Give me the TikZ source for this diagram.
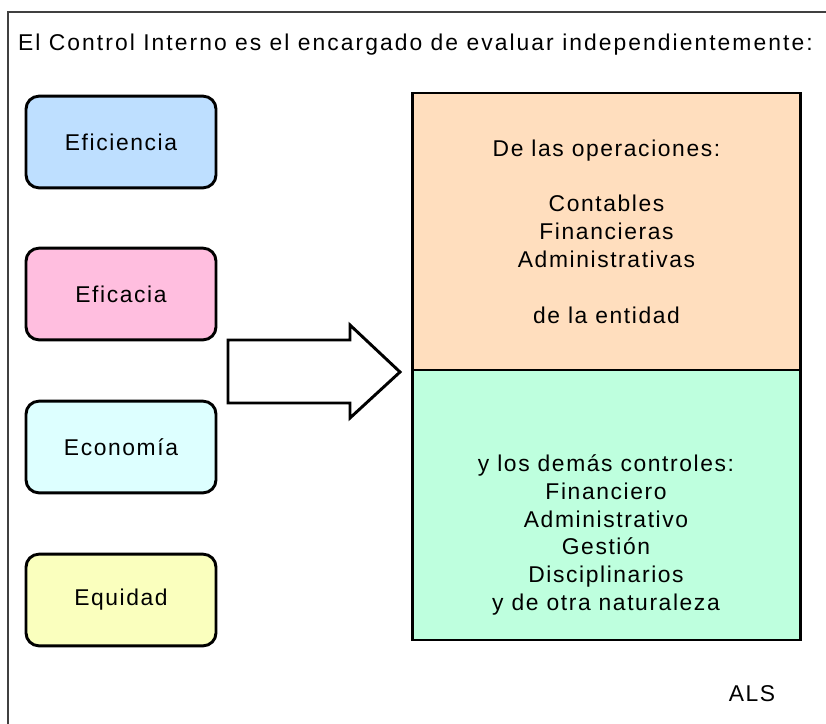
\documentclass[tikz,border=0pt]{standalone}
\usepackage{fontspec}
\setmainfont{Liberation Sans}[LetterSpace=7]
\definecolor{azulc}{RGB}{190,223,255}
\definecolor{rosac}{RGB}{255,190,223}
\definecolor{cianc}{RGB}{221,255,255}
\definecolor{amarc}{RGB}{250,255,190}
\definecolor{durazno}{RGB}{255,222,190}
\definecolor{menta}{RGB}{190,255,222}
\begin{document}
\begin{tikzpicture}[x=0.03cm,y=-0.03cm,
  caja/.style={draw, line width=2.5pt, rounded corners=11pt, minimum width=5.7cm, minimum height=2.75cm},
  bloque/.style={draw, line width=2.5pt, minimum width=11.65cm},
  texto/.style={align=center, font=\fontsize{19.5}{23.8}\selectfont}]
\useasboundingbox (0,0) rectangle (826,724);
\draw [line width=0.9pt, black!75] (8,724) -- (8,12) -- (826,12);
\node [anchor=west, font=\fontsize{19.5}{22}\selectfont\addfontfeature{LetterSpace=9}] (titulo) at (14,45) {El Control Interno es el encargado de evaluar independientemente:};
% cajas de la izquierda
\node [caja, fill=azulc] (eficiencia) at (121,142) {};
\node [caja, fill=rosac] (eficacia) at (121,294) {};
\node [caja, fill=cianc] (economia) at (121,447) {};
\node [caja, fill=amarc] (equidad) at (121,600) {};
\node [texto] at (eficiencia) {Eficiencia};
\node [texto] at (eficacia) {Eficacia};
\node [texto] at (economia) {Economía};
\node [texto] at (equidad) {Equidad};
% flecha
\draw [line width=2.5pt, fill=white, line join=miter] (228,340) -- (350,340) -- (350,325) -- (400,372) -- (350,418) -- (350,403) -- (228,403) -- cycle;
% bloques de la derecha
\node [bloque, fill=durazno, minimum height=8.31cm] (operaciones) at (606.5,231.5) {};
\node [bloque, fill=menta, minimum height=8.1cm] (controles) at (606.5,505) {};
\node [texto] (txtoper) at (operaciones) {De las operaciones:\\[23.8pt]Contables\\Financieras\\Administrativas\\[23.8pt]de la entidad};
\node [texto] (txtctrl) at (606,535) {y los demás controles:\\Financiero\\Administrativo\\Gestión\\Disciplinarios\\y de otra naturaleza};
\node [font=\fontsize{19.5}{22}\selectfont] (als) at (752,694) {ALS};
\end{tikzpicture}
\end{document}
